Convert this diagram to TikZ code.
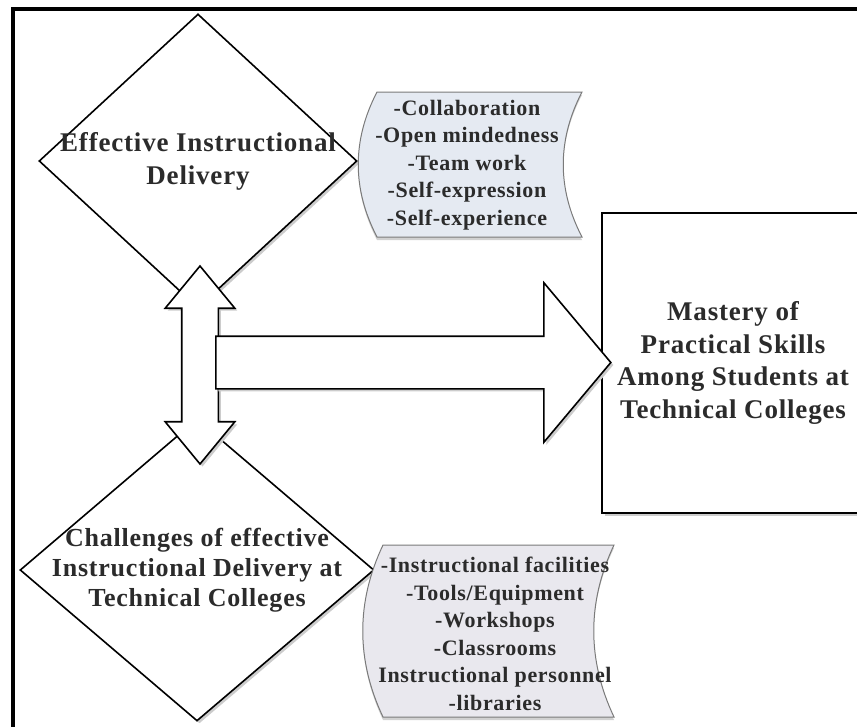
\documentclass[tikz,border=0pt]{standalone}
\usepackage{fontspec}
\setmainfont{Liberation Serif}[LetterSpace=3]
\usepackage{xcolor}
\usepackage{tikz}
\usetikzlibrary{shapes.geometric, shapes.arrows, shadows}

\definecolor{inkgray}{HTML}{2B2B2B}
\definecolor{panelblue}{HTML}{E5EAF2}
\definecolor{panelgray}{HTML}{E9E8EE}
\definecolor{panelline}{HTML}{7A7A7A}

\begin{document}
\begin{tikzpicture}[
    x=1pt, y=-1pt,
    every node/.style={text=inkgray, font=\bfseries},
    shadowed/.style={drop shadow={shadow xshift=2.5pt, shadow yshift=-2.5pt, fill=black!20, opacity=1}},
    decision/.style={diamond, draw=black, line width=1.6pt, fill=white, inner sep=0pt, shadowed},
    dtext/.style={font=\bfseries\fontsize{27}{33}\selectfont, align=center},
    goal/.style={rectangle, draw=black, line width=1.6pt, fill=white, align=center, shadowed, font=\bfseries\fontsize{27}{32.5}\selectfont},
    panel/.style={draw=panelline, line width=1pt, preaction={fill=black!18, transform canvas={shift={(0,3)}}}},
    items/.style={align=center, font=\bfseries\fontsize{22}{27.5}\selectfont},
    blockarr/.style={draw=black, line width=1.6pt, fill=white, shadowed}
]
\path[use as bounding box, clip] (0,0) rectangle (857,726);

% outer frame
\draw[line width=3.5pt] (13,9) rectangle (900,760);

% the two diamonds
\node[decision, minimum width=318pt, minimum height=294pt,
      label={[dtext]center:{Effective Instructional\\Delivery}}] (eid) at (198,161) {};
\node[decision, minimum width=354pt, minimum height=302pt,
      label={[dtext, font=\bfseries\fontsize{26}{30}\selectfont]center:{Challenges of effective\\Instructional Delivery at\\Technical Colleges}}] (chal) at (197,570) {};

% lists beside the diamonds
\path[panel, fill=panelblue] (377,92) .. controls (352,140) and (352,189) .. (377,237)
    -- (582,237) .. controls (557,189) and (557,140) .. (582,92) -- cycle;
\node[items] (qual) at (467,165) {-Collaboration\\-Open mindedness\\-Team work\\-Self-expression\\-Self-experience};

\path[panel, fill=panelgray] (383,545) .. controls (356,602) and (356,660) .. (383,717)
    -- (614,717) .. controls (587,660) and (587,602) .. (614,545) -- cycle;
\node[items] (fac) at (495,634) {-Instructional facilities\\-Tools/Equipment\\-Workshops\\-Classrooms\\Instructional personnel\\-libraries};

% outcome box
\node[goal, minimum width=262pt, minimum height=300pt] (mast) at (733,363) {Mastery of\\Practical Skills\\Among Students at\\Technical Colleges};

% block arrows
\node[blockarr, double arrow, shape border rotate=90, inner sep=17.5pt, minimum height=198pt, minimum width=68pt,
      double arrow head extend=16.5pt, double arrow tip angle=79] (link) at (200,365) {};
\node[blockarr, single arrow, inner sep=25.5pt, minimum height=395pt, minimum width=158pt,
      single arrow head extend=53.5pt, single arrow tip angle=100, anchor=tail] (lead) at (215,362.5) {};

\end{tikzpicture}
\end{document}
